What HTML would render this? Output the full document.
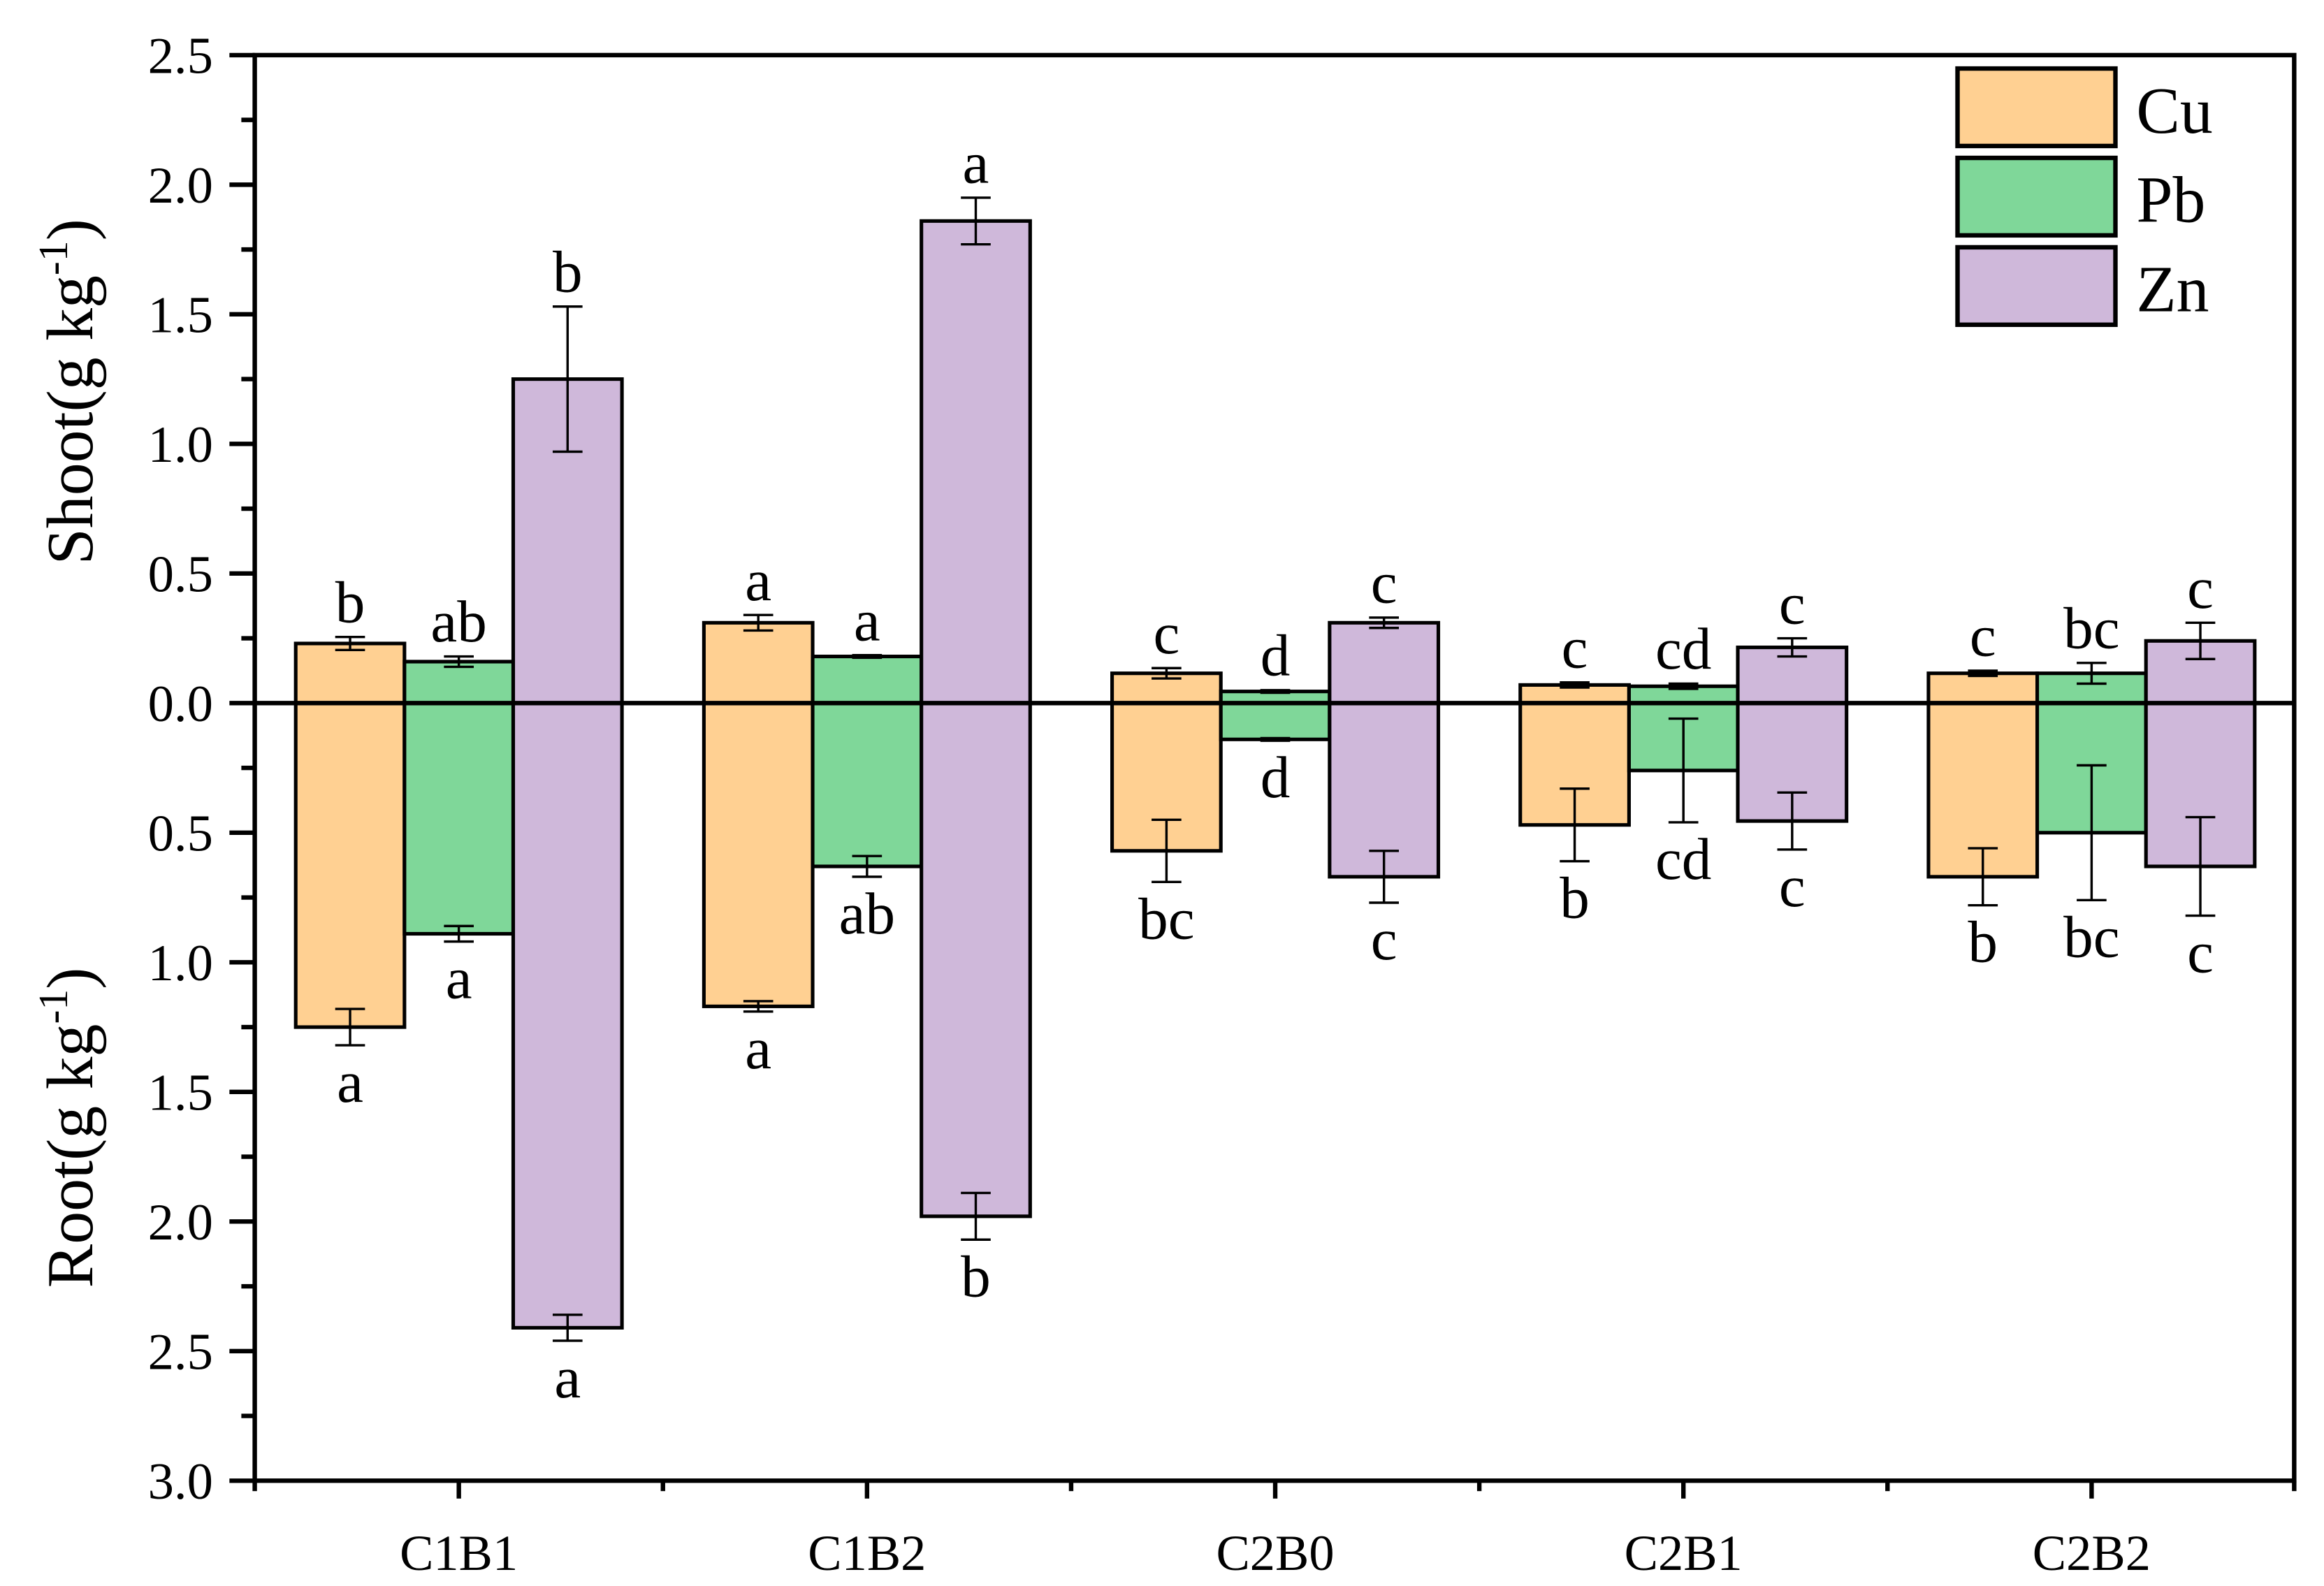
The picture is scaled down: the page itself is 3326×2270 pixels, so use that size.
<!DOCTYPE html>
<html><head><meta charset="utf-8"><style>
html,body{margin:0;padding:0;background:#fff;}
svg{display:block;}
text{font-family:"Liberation Serif",serif;fill:#000;}
</style></head><body>
<svg id="chart" width="3326" height="2270" viewBox="0 0 1560 1064.7" preserveAspectRatio="none" xmlns="http://www.w3.org/2000/svg"></svg>
<script>
const categories = ["C1B1","C1B2","C2B0","C2B1","C2B2"];
const seriesNames = ["Cu","Pb","Zn"];
const seriesColors = ["#FFD092","#7FD799","#CFB8DA"];
const shootCu = [0.23,0.31,0.115,0.07,0.115];
const shootPb = [0.16,0.18,0.045,0.065,0.115];
const shootZn = [1.25,1.86,0.31,0.215,0.24];
const shootCuErr = [0.025,0.03,0.02,0.01,0.01];
const shootPbErr = [0.02,0.005,0.005,0.01,0.04];
const shootZnErr = [0.28,0.09,0.02,0.035,0.07];
const rootCu = [1.25,1.17,0.57,0.47,0.67];
const rootPb = [0.89,0.63,0.14,0.26,0.50];
const rootZn = [2.41,1.98,0.67,0.455,0.63];
const rootCuErr = [0.07,0.02,0.12,0.14,0.11];
const rootPbErr = [0.03,0.04,0.005,0.2,0.26];
const rootZnErr = [0.05,0.09,0.1,0.11,0.19];
const shootLetters = [["b","a","c","c","c"],["ab","a","d","cd","bc"],["b","a","c","c","c"]];
const rootLetters = [["a","a","bc","b","b"],["a","ab","d","cd","bc"],["a","b","c","c","c"]];
const shootTicks = ["0.0","0.5","1.0","1.5","2.0","2.5"];
const rootTicks = ["0.5","1.0","1.5","2.0","2.5","3.0"];

const svg = document.getElementById('chart');
const NS = "http://www.w3.org/2000/svg";
const L=171,R=1540,T=37,B=994,Y0=472,UNIT=174,STEP=274,X0=308,BW=73;
const yS = v => Y0 - v*UNIT;
const yR = v => Y0 + v*UNIT;
const xC = i => X0 + i*STEP;
function el(tag, attrs, parent){const e=document.createElementNS(NS,tag);for(const k in attrs)e.setAttribute(k,attrs[k]);(parent||svg).appendChild(e);return e;}

const shoot=[shootCu,shootPb,shootZn], shootE=[shootCuErr,shootPbErr,shootZnErr];
const root=[rootCu,rootPb,rootZn], rootE=[rootCuErr,rootPbErr,rootZnErr];

for(let s=0;s<3;s++){
  for(let i=0;i<categories.length;i++){
    const x = xC(i) + (s-1)*BW - BW/2, cx = x+BW/2;
    const rs = el('rect',{x:x,y:yS(shoot[s][i]),width:BW,height:shoot[s][i]*UNIT,fill:seriesColors[s],stroke:'#000','stroke-width':2.4});
    
    
    const rr = el('rect',{x:x,y:Y0,width:BW,height:root[s][i]*UNIT,fill:seriesColors[s],stroke:'#000','stroke-width':2.4});
    
    
    const t1=yS(shoot[s][i]+shootE[s][i]), b1=yS(shoot[s][i]-shootE[s][i]);
    const eb=el('path',{d:`M${cx},${t1}V${b1}M${cx-10},${t1}H${cx+10}M${cx-10},${b1}H${cx+10}`,stroke:'#000','stroke-width':1.6,fill:'none'});
    
    
    const t2=yR(root[s][i]-rootE[s][i]), b2=yR(root[s][i]+rootE[s][i]);
    const eb2=el('path',{d:`M${cx},${t2}V${b2}M${cx-10},${t2}H${cx+10}M${cx-10},${b2}H${cx+10}`,stroke:'#000','stroke-width':1.6,fill:'none'});
    
    
    const l1=el('text',{x:cx,y:t1-10,'text-anchor':'middle','font-size':40});
    l1.textContent=shootLetters[s][i];
    
    
    const l2=el('text',{x:cx,y:b2+38,'text-anchor':'middle','font-size':40});
    l2.textContent=rootLetters[s][i];
    
    
  }
}
const z=el('line',{x1:L,x2:R,y1:Y0,y2:Y0,stroke:'#000','stroke-width':3});


const fr=el('rect',{x:L,y:T,width:R-L,height:B-T,fill:'none',stroke:'#000','stroke-width':3});


for(let k=0;k<=22;k++){
  const y=T+k*UNIT/4;
  const major = (k%2===0);
  const tk=el('line',{x1:major?L-17:L-9,x2:L,y1:y,y2:y,stroke:'#000','stroke-width':3});
  
  
}
shootTicks.forEach((t,j)=>{
  const tx=el('text',{x:143,y:yS(parseFloat(t))+12,'text-anchor':'end','font-size':35});
  tx.textContent=t;
  
  
});
rootTicks.forEach((t,j)=>{
  const tx=el('text',{x:143,y:yR(parseFloat(t))+12,'text-anchor':'end','font-size':35});
  tx.textContent=t;
  
  
});
categories.forEach((c,i)=>{
  const tk=el('line',{x1:xC(i),x2:xC(i),y1:B,y2:B+12,stroke:'#000','stroke-width':3});
  
  
  const tx=el('text',{x:xC(i),y:1054,'text-anchor':'middle','font-size':34});
  tx.textContent=c;
  
  
});
for(let i=0;i<=categories.length;i++){
  const x=i===0?L:(i===categories.length?R:xC(i)-STEP/2);
  const tk=el('line',{x1:x,x2:x,y1:B,y2:B+7,stroke:'#000','stroke-width':3});
  
  
}
const st=el('text',{transform:'translate(62,263) rotate(-90)','text-anchor':'middle','font-size':44});
st.innerHTML='Shoot(g kg<tspan dy="-17" font-size="28">-1</tspan><tspan dy="17">)</tspan>';


const rt=el('text',{transform:'translate(62,757) rotate(-90)','text-anchor':'middle','font-size':44});
rt.innerHTML='Root(g kg<tspan dy="-17" font-size="28">-1</tspan><tspan dy="17">)</tspan>';


seriesNames.forEach((n,s)=>{
  const g=el('g',{});
  
  
  el('rect',{x:1314,y:46+s*60,width:106,height:52,fill:seriesColors[s],stroke:'#000','stroke-width':3},g);
  const t=el('text',{x:1434,y:89+s*60,'font-size':44},g);
  t.textContent=n;
});
</script>
</body></html>
